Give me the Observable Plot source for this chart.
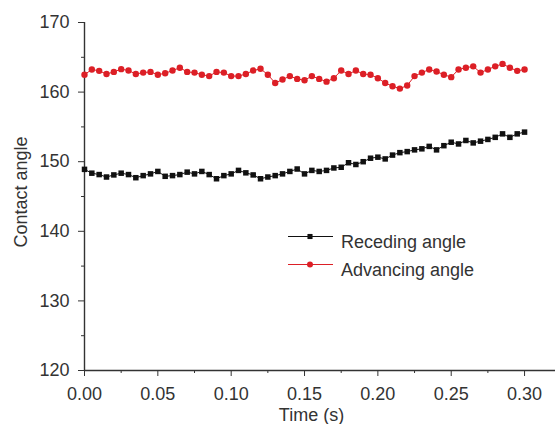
<!DOCTYPE html>
<html>
<head>
<meta charset="utf-8">
<script src="https://cdn.jsdelivr.net/npm/d3@7"></script>
<script src="https://cdn.jsdelivr.net/npm/@observablehq/plot@0.6"></script>
<style>
html, body { margin: 0; padding: 0; background: #fff; }
#chart { width: 555px; height: 424px; }
</style>
</head>
<body>
<div id="chart"></div>
<script>
// Time (s)
const times = [
  0.000, 0.005, 0.010, 0.015, 0.020, 0.025, 0.030, 0.035, 0.040, 0.045,
  0.050, 0.055, 0.060, 0.065, 0.070, 0.075, 0.080, 0.085, 0.090, 0.095,
  0.100, 0.105, 0.110, 0.115, 0.120, 0.125, 0.130, 0.135, 0.140, 0.145,
  0.150, 0.155, 0.160, 0.165, 0.170, 0.175, 0.180, 0.185, 0.190, 0.195,
  0.200, 0.205, 0.210, 0.215, 0.220, 0.225, 0.230, 0.235, 0.240, 0.245,
  0.250, 0.255, 0.260, 0.265, 0.270, 0.275, 0.280, 0.285, 0.290, 0.295,
  0.300
];

// Receding angle
const receding = [
  148.9, 148.35, 148.15, 147.8, 148.1, 148.35, 148.15, 147.7, 148.0, 148.25,
  148.6, 147.9, 148.0, 148.15, 148.5, 148.25, 148.6, 148.15, 147.55, 148.0,
  148.25, 148.75, 148.4, 148.1, 147.55, 147.8, 148.0, 148.25, 148.6, 148.95,
  148.25, 148.75, 148.6, 148.75, 149.1, 149.2, 149.85, 149.6, 150.0, 150.5,
  150.65, 150.4, 150.95, 151.3, 151.45, 151.7, 151.85, 152.2, 151.7, 152.3,
  152.8, 152.55, 153.05, 152.7, 152.95, 153.2, 153.5, 154.0, 153.5, 154.0,
  154.25
];

// Advancing angle
const advancing = [
  162.5, 163.25, 163.05, 162.6, 162.9, 163.3, 163.1, 162.6, 162.8, 162.9,
  162.5, 162.7, 163.1, 163.5, 162.9, 162.8, 162.5, 162.3, 162.9, 162.8,
  162.3, 162.3, 162.6, 163.1, 163.35, 162.5, 161.3, 161.8, 162.3, 161.9,
  161.7, 162.3, 161.9, 161.5, 162.0, 163.1, 162.6, 163.1, 162.6, 162.5,
  162.0, 161.3, 160.85, 160.5, 160.95, 162.3, 162.8, 163.25, 162.95, 162.5,
  162.15, 163.25, 163.5, 163.7, 162.8, 163.25, 163.7, 164.05, 163.5, 163.05,
  163.25
];

const xTicks = [0, 0.05, 0.10, 0.15, 0.20, 0.25, 0.30];
const xMinorTicks = [0.025, 0.075, 0.125, 0.175, 0.225, 0.275];
const yTicks = [120, 130, 140, 150, 160, 170];
const yMinorTicks = [125, 135, 145, 155, 165];

const seriesNames = ["Receding angle", "Advancing angle"];
const xLabel = "Time (s)";
const yLabel = "Contact angle";

const BLACK = "#111111";
const RED = "#dc1f26";
const AXIS = "#333333";
const FONT = "'Liberation Sans', Arial, Helvetica, sans-serif";

const data = times.map((t, i) => ({t, r: receding[i], a: advancing[i]}));

const plot = Plot.plot({
  width: 555,
  height: 424,
  marginLeft: 84,
  marginRight: 0,
  marginTop: 22,
  marginBottom: 54,
  style: {fontFamily: FONT, fontSize: "18px", color: AXIS, background: "#fff"},
  x: {domain: [0, 0.3211]},
  y: {domain: [120, 170]},
  marks: [
    Plot.axisX({ticks: xTicks, tickSize: 6, tickPadding: 11, tickFormat: d3.format(".2f"), label: null, stroke: AXIS, fill: AXIS}),
    Plot.axisX({ticks: xMinorTicks, tickSize: 3, text: null, label: null, stroke: AXIS}),
    Plot.axisY({ticks: yTicks, tickSize: 6, tickPadding: 9, tickFormat: d3.format("d"), label: null, stroke: AXIS, fill: AXIS}),
    Plot.axisY({ticks: yMinorTicks, tickSize: 3, text: null, label: null, stroke: AXIS}),
    Plot.ruleX([0], {stroke: AXIS, strokeWidth: 1.4}),
    Plot.ruleY([120], {stroke: AXIS, strokeWidth: 1.4}),
    Plot.line(data, {x: "t", y: "r", stroke: BLACK, strokeWidth: 1}),
    Plot.line(data, {x: "t", y: "a", stroke: RED, strokeWidth: 1}),
    Plot.dot(data, {x: "t", y: "r", symbol: "square", r: 3.1, fill: BLACK, stroke: "none"}),
    Plot.dot(data, {x: "t", y: "a", symbol: "circle", r: 3.2, fill: RED, stroke: "none"})
  ]
});

const svg = d3.select(plot);

// Axis titles
const titles = svg.append("g").attr("font-family", FONT).attr("font-size", 18)
  .attr("fill", AXIS).attr("text-anchor", "middle");
titles.append("text").attr("x", 311.5).attr("y", 421).text(xLabel);
titles.append("text").attr("transform", "translate(26.5,192) rotate(-90)").text(yLabel);

// Legend (inside plot area)
const lg = svg.append("g").attr("font-family", FONT).attr("font-size", 18)
  .attr("fill", AXIS).attr("text-anchor", "start");
const legendItems = [
  {label: seriesNames[0], color: BLACK, symbol: d3.symbolSquare, size: 26},
  {label: seriesNames[1], color: RED, symbol: d3.symbolCircle, size: 28}
];
legendItems.forEach((it, i) => {
  const y = 236.5 + i * 28;
  const g = lg.append("g");
  g.append("line").attr("x1", 288).attr("x2", 333).attr("y1", y).attr("y2", y)
    .attr("stroke", it.color).attr("stroke-width", 1);
  g.append("path").attr("d", d3.symbol(it.symbol, it.size)())
    .attr("transform", `translate(310,${y})`).attr("fill", it.color);
  g.append("text").attr("x", 341).attr("y", y + 11).attr("text-anchor", "start").text(it.label);
});

document.getElementById("chart").appendChild(plot);
</script>
</body>
</html>
